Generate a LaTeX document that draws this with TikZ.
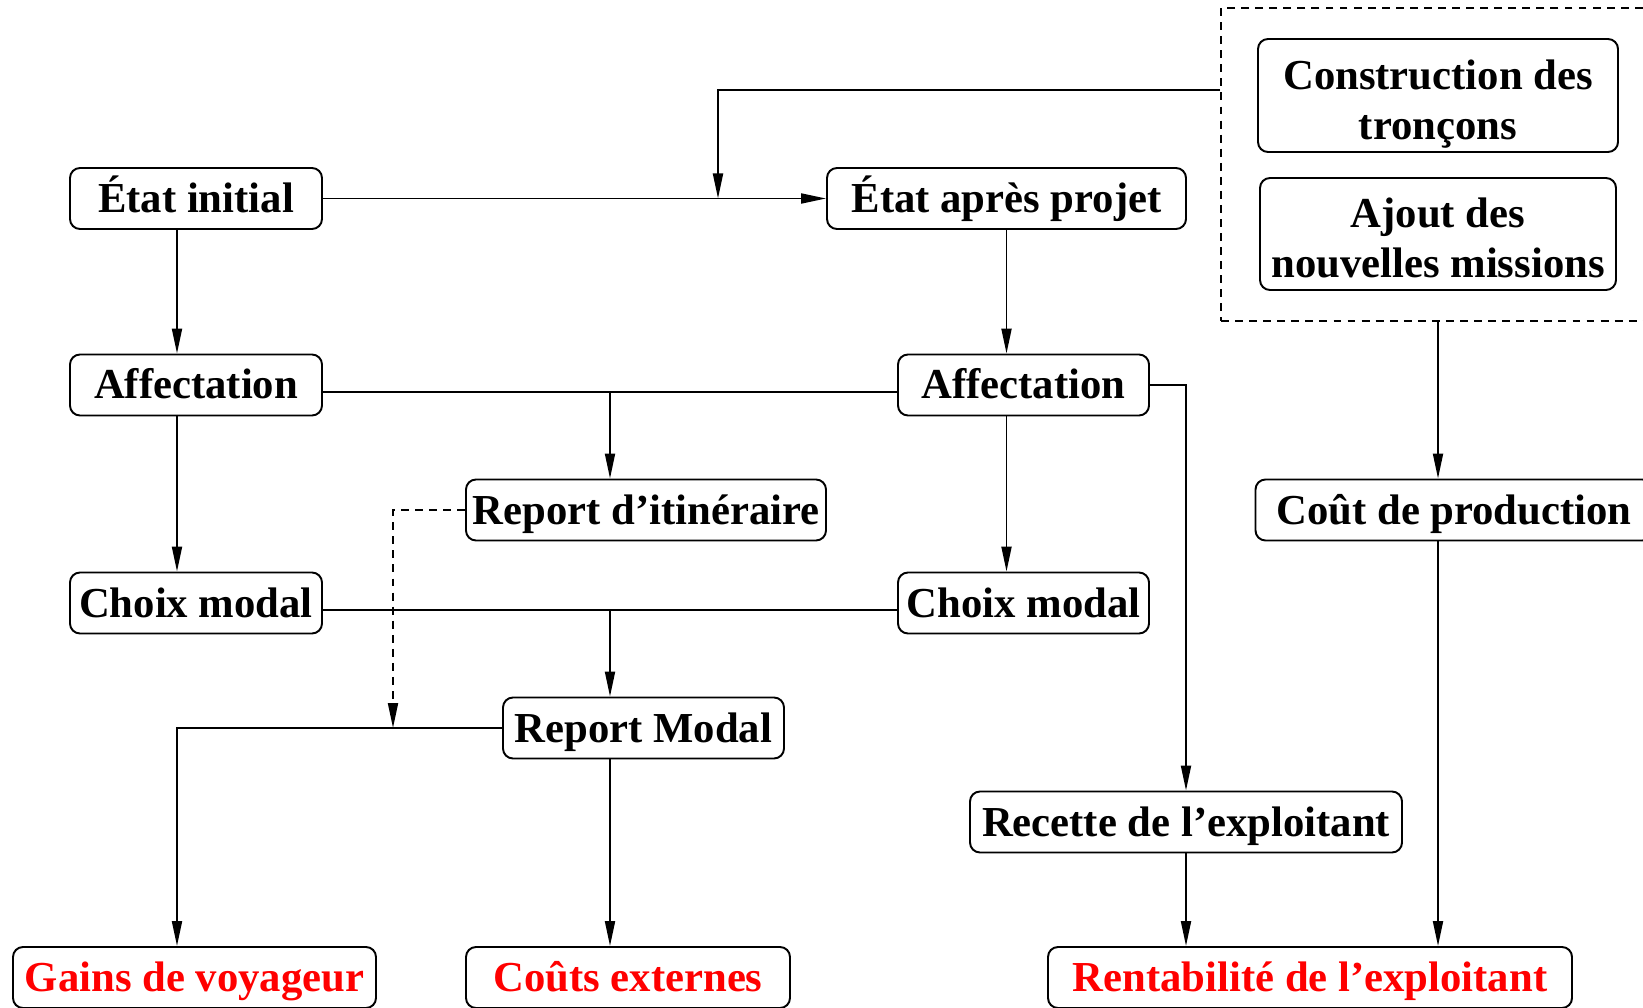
\documentclass[tikz,border=0pt]{standalone}
\usepackage{xcolor}
\usepackage{fontspec}
\setmainfont{Liberation Serif}
\usepackage{tikz}
\usetikzlibrary{arrows.meta, positioning, calc, fit}

\begin{document}
\begin{tikzpicture}[
    groupbox/.style={draw, rounded corners=0.2cm, line width=1.1pt, inner sep=0pt, minimum height=1.22cm, align=center, font=\bfseries\fontsize{24.3}{28.5}\selectfont},
    stepbox/.style={groupbox, text height=0.75cm, text depth=0.19cm},
    resultbox/.style={stepbox, text=red},
    arrow/.style={-{Triangle[length=0.5cm,width=0.2cm]}, line width=1.1pt},
    link/.style={line width=1.1pt},
    dashlink/.style={dash pattern=on 4.5pt off 3.5pt}
]
    \clip (0,0) rectangle (32.86,-20.16);

    \node[stepbox, minimum width=5.04cm] (ei) at (3.92, -3.97) {État initial};
    \node[stepbox, minimum width=7.18cm] (eap) at (20.13, -3.97) {État après projet};
    \node[groupbox, minimum width=7.2cm, minimum height=2.26cm] (constr) at (28.76, -1.91) {\rule{0pt}{0.95cm}Construction des\\tronçons\rule[-0.2cm]{0pt}{0.2cm}};
    \node[groupbox, minimum width=7.12cm, minimum height=2.24cm] (ajout) at (28.76, -4.68) {\rule{0pt}{0.95cm}Ajout des\\nouvelles missions\rule[-0.2cm]{0pt}{0.2cm}};
    \node[draw, link, dashlink, fit=(constr)(ajout), inner xsep=0.72cm, inner ysep=0.6cm] (grp) {};

    \node[stepbox, minimum width=5.04cm] (aff1) at (3.92, -7.70) {Affectation};
    \node[stepbox, minimum width=5.02cm] (aff2) at (20.47, -7.70) {Affectation};
    \node[stepbox, minimum width=7.2cm] (rit) at (12.92, -10.20) {Report d’itinéraire};
    \node[stepbox, minimum width=7.94cm] (cprod) at (29.08, -10.20) {Coût de production};
    \node[stepbox, minimum width=5.04cm] (choix1) at (3.92, -12.06) {Choix modal};
    \node[stepbox, minimum width=5.02cm] (choix2) at (20.47, -12.06) {Choix modal};
    \node[stepbox, minimum width=5.62cm] (rmod) at (12.87, -14.56) {Report Modal};
    \node[stepbox, minimum width=8.64cm] (recette) at (23.72, -16.44) {Recette de l’exploitant};

    \node[resultbox, minimum width=7.26cm] (gains) at (3.89, -19.55) {Gains de voyageur};
    \node[resultbox, minimum width=6.48cm] (couts) at (12.56, -19.55) {Coûts externes};
    \node[resultbox, minimum width=10.48cm] (rent) at (26.2, -19.55) {Rentabilité de l’exploitant};

    % bends and columns of the connectors
    \coordinate (colL) at (3.54, 0);
    \coordinate (colM) at (12.2, 0);
    \coordinate (colD) at (7.86, 0);
    \coordinate (feed) at (14.36, -1.8);
    \coordinate (rowA) at (0, -7.84);
    \coordinate (rowC) at (0, -12.2);

    \draw[arrow] (ei) -- (eap);
    \draw[arrow] (grp.west |- feed) -- (feed) -- (feed |- ei.east);

    \draw[arrow] (ei.south -| colL) -- (aff1.north -| colL);
    \draw[arrow] (aff1.south -| colL) -- (choix1.north -| colL);
    \draw[arrow] (eap.south) -- (eap.south |- aff2.north);
    \draw[arrow] (eap.south |- aff2.south) -- (eap.south |- choix2.north);

    \draw[link] (aff1.east |- rowA) -- (aff2.west |- rowA);
    \draw[arrow] (colM |- rowA) -- (colM |- rit.north);
    \draw[link] (choix1.east |- rowC) -- (choix2.west |- rowC);
    \draw[arrow] (colM |- rowC) -- (colM |- rmod.north);

    \draw[arrow, dashlink] (rit.west) -- (rit.west -| colD) -- (colD |- rmod.west);
    \draw[arrow] (rmod.west) -- (rmod.west -| colL) -- (colL |- gains.north);
    \draw[arrow] (colM |- rmod.south) -- (colM |- couts.north);

    \draw[arrow] (aff2.east) -| (recette.north);
    \draw[arrow] (recette.south) -- (recette.south |- rent.north);
    \draw[arrow] (grp.south) -- (grp.south |- cprod.north);
    \draw[arrow] (grp.south |- cprod.south) -- (grp.south |- rent.north);
\end{tikzpicture}
\end{document}
